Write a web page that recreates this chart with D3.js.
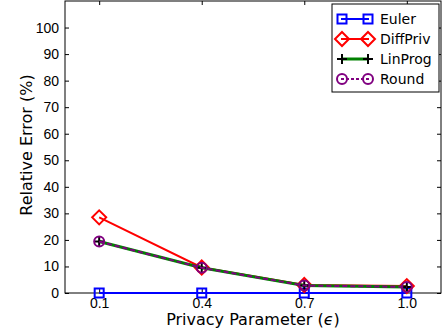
<!DOCTYPE html>
<html>
<head>
<meta charset=utf-8>
<style>
body {margin: 0; background: #fff;}
svg {display: block; font-family: 'DejaVu Sans', sans-serif;}
.axis text {font-size: 14px; fill: #000;}
.axis path, .axis line {stroke: #000;}
</style>
</head>
<body>
<svg id=chart width=445 height=332></svg>
<script src='https://cdn.jsdelivr.net/npm/d3@7/dist/d3.min.js'></script>
<script>
// data
var epsilons = [0.1, 0.4, 0.7, 1.0];
var euler    = [0, 0, 0, 0];
var diffPriv = [28.5, 9.6, 3.0, 2.6];
var linProg  = [19.4, 9.5, 2.8, 2.3];
var round    = [19.4, 9.5, 2.8, 2.3];
var yTicks   = [0, 10, 20, 30, 40, 50, 60, 70, 80, 90, 100];

var series = [
  {name: 'Euler',    values: euler,    color: 'blue',    marker: 'square',  mcolor: 'blue'},
  {name: 'DiffPriv', values: diffPriv, color: 'red',     marker: 'diamond', mcolor: 'red'},
  {name: 'LinProg',  values: linProg,  color: 'green',   marker: 'plus',    mcolor: 'black'},
  {name: 'Round',    values: round,    color: 'purple',  marker: 'circle',  mcolor: 'purple', dash: '5,3'}
];

var margin = {top: 1, right: 4, bottom: 39, left: 65};
var svg = d3.select('#chart');
var width = 445 - margin.left - margin.right;
var height = 332 - margin.top - margin.bottom;
var g = svg.append('g').attr('transform', 'translate(' + margin.left + ',' + margin.top + ')');

var x = d3.scaleLinear().domain([0, 1.1]).range([0, width]);
var y = d3.scaleLinear().domain([0, 110]).range([height, 0]);

//axes, ticks pointing inward on all sides
g.append('g').attr('class', 'axis')
    .attr('transform', 'translate(0,' + height + ')')
    .call(d3.axisBottom(x).tickValues(epsilons).tickFormat(d3.format('.1f')).tickSizeInner(-4).tickSizeOuter(0).tickPadding(5));
g.append('g').attr('class', 'axis')
    .call(d3.axisTop(x).tickValues(epsilons).tickFormat('').tickSizeInner(-4).tickSizeOuter(0));
g.append('g').attr('class', 'axis')
    .call(d3.axisLeft(y).tickValues(yTicks).tickSizeInner(-4).tickSizeOuter(0).tickPadding(6));
g.append('g').attr('class', 'axis')
    .attr('transform', 'translate(' + width + ',0)')
    .call(d3.axisRight(y).tickValues(yTicks).tickFormat('').tickSizeInner(-4).tickSizeOuter(0));
g.selectAll('.axis .domain').remove();
g.append('rect').attr('width', width).attr('height', height)
    .attr('fill', 'none').attr('stroke', '#000').attr('stroke-width', 1);

//axis titles
var xt = svg.append('text')
    .attr('text-anchor', 'middle')
    .attr('x', margin.left + width / 2).attr('y', 325)
    .style('font-size', '16px');
xt.append('tspan').text('Privacy Parameter (');
xt.append('tspan').style('font-style', 'italic').text('\u03F5');
xt.append('tspan').text(')');

svg.append('text')
    .attr('text-anchor', 'middle')
    .attr('transform', 'rotate(-90)')
    .attr('x', -145).attr('y', 32)
    .style('font-size', '16px')
    .text('Relative Error (%)');

function drawMarker(sel, s, cx, cy) {
  if (s.marker === 'square') {
    sel.append('rect').attr('x', cx - 4.5).attr('y', cy - 4.5).attr('width', 9).attr('height', 9)
        .attr('fill', 'none').attr('stroke', s.mcolor).attr('stroke-width', 2);
  } else if (s.marker === 'diamond') {
    sel.append('path').attr('d', 'M' + cx + ',' + (cy - 7) + 'L' + (cx + 7) + ',' + cy + 'L' + cx + ',' + (cy + 7) + 'L' + (cx - 7) + ',' + cy + 'Z')
        .attr('fill', 'none').attr('stroke', s.mcolor).attr('stroke-width', 2);
  } else if (s.marker === 'plus') {
    sel.append('path').attr('d', 'M' + (cx - 5) + ',' + cy + 'H' + (cx + 5) + 'M' + cx + ',' + (cy - 5) + 'V' + (cy + 5))
        .attr('stroke', s.mcolor).attr('stroke-width', 2);
  } else {
    sel.append('circle').attr('cx', cx).attr('cy', cy).attr('r', 5)
        .attr('fill', 'none').attr('stroke', s.mcolor).attr('stroke-width', 2);
  }
}

var line = d3.line().x(function(d, i) { return x(epsilons[i]); }).y(function(d) { return y(d); });

var plot = g.append('g');
series.forEach(function(s) {
  plot.append('path').datum(s.values)
      .attr('d', line)
      .attr('fill', 'none')
      .attr('stroke', s.color)
      .attr('stroke-width', s.marker === 'plus' ? 3 : 2)
      .attr('stroke-dasharray', s.dash || null);
  s.values.forEach(function(v, i) { drawMarker(plot, s, x(epsilons[i]), y(v)); });
});

//legend
var lg = svg.append('g').attr('transform', 'translate(332,4)');
lg.append('rect').attr('width', 107).attr('height', 88)
    .attr('fill', '#fff').attr('stroke', '#000').attr('stroke-width', 1);
series.forEach(function(s, i) {
  var ly = 15 + i * 20;
  lg.append('line').attr('x1', 9).attr('x2', 37).attr('y1', ly).attr('y2', ly)
      .attr('stroke', s.color).attr('stroke-width', s.marker === 'plus' ? 3 : 2).attr('stroke-dasharray', s.dash ? '3,2' : null);
  drawMarker(lg, s, 10, ly);
  drawMarker(lg, s, 36, ly);
  lg.append('text').attr('x', 48).attr('y', ly + 5).style('font-size', '14px').text(s.name);
});
</script>
</body>
</html>
